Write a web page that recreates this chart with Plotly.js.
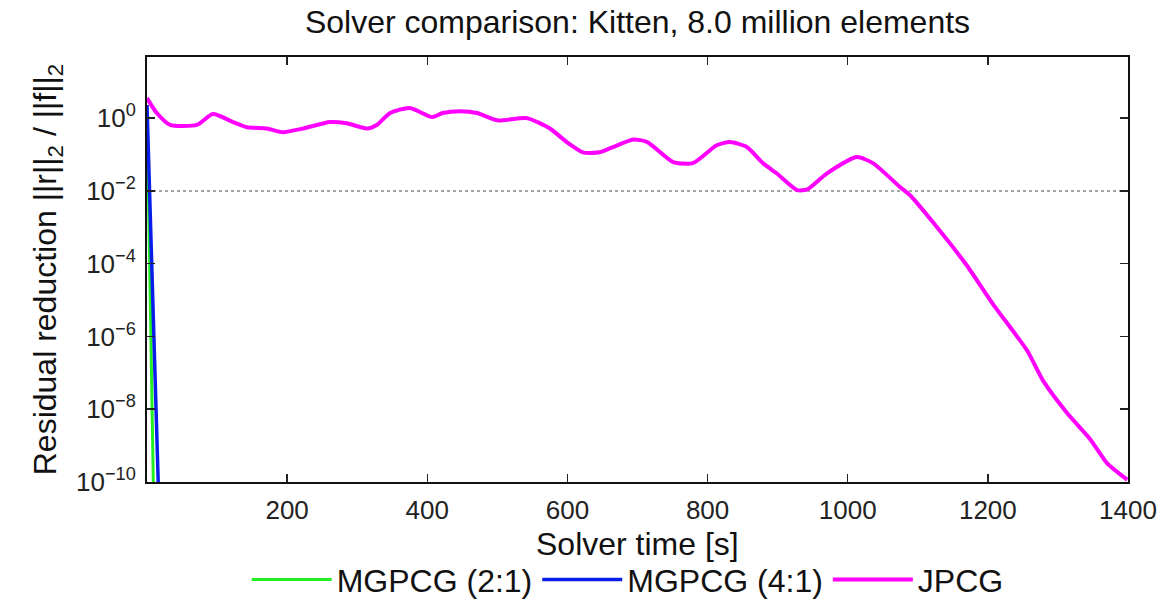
<!DOCTYPE html>
<html>
<head>
<meta charset="utf-8">
<script src="https://cdn.plot.ly/plotly-3.0.1.min.js"></script>
<style>html,body{margin:0;padding:0;background:#fff;}#chart{width:1163px;height:602px;}</style>
</head>
<body>
<div id="chart"></div>
<script>
// JPCG residual history (time [s], residual reduction)
const jpcgTime = [0, 14, 33, 71, 94, 123, 143, 171, 194, 223, 261, 285, 314, 328, 347, 375, 407, 422, 447, 471, 500, 542, 575, 599, 622, 646, 665, 694, 714, 751, 779, 813, 832, 856, 879, 899, 928, 942, 970, 1013, 1036, 1075, 1089, 1122, 1170, 1207, 1256, 1279, 1313, 1346, 1370, 1399];
const jpcgResidual = [3.55, 1.38, 0.65, 0.65, 1.29, 0.78, 0.56, 0.52, 0.41, 0.52, 0.78, 0.72, 0.52, 0.65, 1.38, 1.91, 1.07, 1.38, 1.55, 1.38, 0.87, 1.0, 0.52, 0.22, 0.115, 0.115, 0.16, 0.26, 0.22, 0.062, 0.058, 0.18, 0.22, 0.16, 0.058, 0.030, 0.0105, 0.011, 0.030, 0.085, 0.058, 0.0126, 0.0076, 0.00135, 8.9e-5, 7.9e-6, 4.1e-7, 6.0e-8, 7.9e-9, 1.5e-9, 3.3e-10, 1.15e-10];
// MGPCG (2:1)
const mg21Time = [0, 9];
const mg21Residual = [2.3, 1e-10];
// MGPCG (4:1)
const mg41Time = [0, 16];
const mg41Residual = [2.3, 1e-10];
// target tolerance line
const tolTime = [0, 1400];
const tolValue = [0.01, 0.01];

const xTickVals = [200, 400, 600, 800, 1000, 1200, 1400];
const yTickVals = [1e-10, 1e-8, 1e-6, 1e-4, 1e-2, 1];
const yTickText = ['10<sup>\u221210</sup>', '10<sup>\u22128</sup>', '10<sup>\u22126</sup>', '10<sup>\u22124</sup>', '10<sup>\u22122</sup>', '10<sup>0</sup>'];

const FONT = 'Liberation Sans, Arial, Helvetica, sans-serif';

const traces = [
  {x: tolTime, y: tolValue, mode: 'lines', line: {color: '#888', width: 1.5, dash: 'dot'}, showlegend: false, hoverinfo: 'skip'},
  {x: mg21Time, y: mg21Residual, mode: 'lines', name: 'MGPCG (2:1)', line: {color: '#22ee22', width: 3}},
  {x: mg41Time, y: mg41Residual, mode: 'lines', name: 'MGPCG (4:1)', line: {color: '#0a1eea', width: 3.5}},
  {x: jpcgTime, y: jpcgResidual, mode: 'lines', name: 'JPCG', line: {color: '#ff00ff', width: 4, shape: 'spline', smoothing: 0.6}}
];

const layout = {
  width: 1163, height: 602,
  margin: {l: 147, r: 35, t: 57, b: 120},
  paper_bgcolor: '#fff', plot_bgcolor: '#fff',
  font: {family: FONT, color: '#111', size: 26},
  title: {text: 'Solver comparison: Kitten, 8.0 million elements', font: {size: 32, family: FONT, color: '#111'}, xref: 'paper', x: 0.5, xanchor: 'center', yref: 'container', y: 0.963, yanchor: 'middle'},
  xaxis: {
    range: [0, 1400], tickvals: xTickVals, ticks: 'inside', ticklen: 8, tickwidth: 1.5, tickcolor: '#222',
    showline: true, linecolor: '#111', linewidth: 2, mirror: 'ticks', showgrid: false, zeroline: false,
    tickfont: {size: 26, family: FONT, color: '#222'}, ticklabelstandoff: 4
  },
  yaxis: {
    type: 'log', range: [-10, 1.68], tickvals: yTickVals, ticktext: yTickText,
    ticks: 'inside', ticklen: 8, tickwidth: 1.5, tickcolor: '#222',
    showline: true, linecolor: '#111', linewidth: 2, mirror: 'ticks', showgrid: false, zeroline: false,
    tickfont: {size: 26, family: FONT, color: '#222'}, ticklabelstandoff: 4,
    title: {text: 'Residual reduction ||r||<sub>2</sub> / ||f||<sub>2</sub>', font: {size: 32, family: FONT, color: '#111'}, standoff: 10}
  },
  annotations: [
    {text: 'Solver time [s]', xref: 'paper', yref: 'paper', x: 0.5, y: -0.145, xanchor: 'center', yanchor: 'middle', showarrow: false, font: {size: 32, family: FONT, color: '#111'}}
  ],
  legend: {orientation: 'h', xref: 'paper', x: 0.49, xanchor: 'center', yref: 'container', y: 0.037, yanchor: 'middle', font: {size: 32, family: FONT, color: '#111'}, itemwidth: 80, bgcolor: 'rgba(0,0,0,0)'},
  showlegend: true
};

Plotly.newPlot('chart', traces, layout, {displayModeBar: false, staticPlot: true});
</script>
</body>
</html>
